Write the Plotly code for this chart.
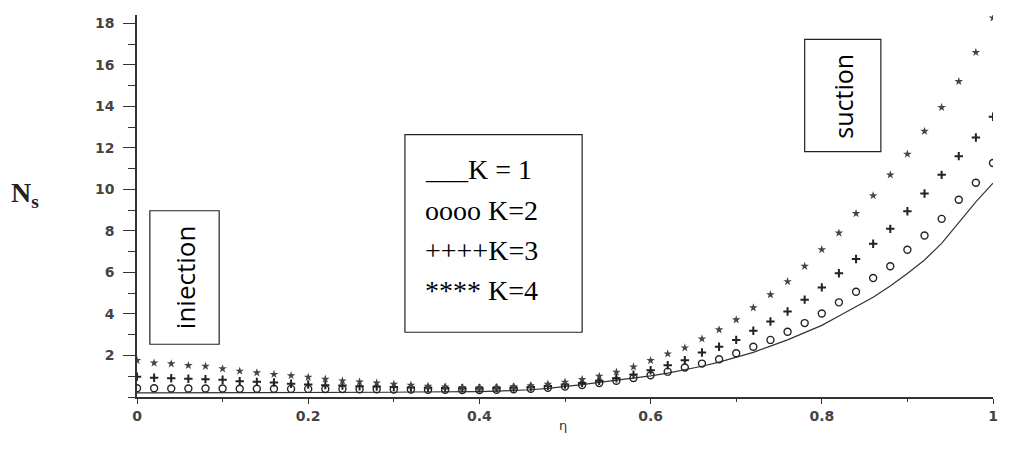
import plotly.graph_objects as go

# Data (eta grid, step 0.02)
eta = [0.00, 0.02, 0.04, 0.06, 0.08, 0.10, 0.12, 0.14, 0.16, 0.18,
       0.20, 0.22, 0.24, 0.26, 0.28, 0.30, 0.32, 0.34, 0.36, 0.38,
       0.40, 0.42, 0.44, 0.46, 0.48, 0.50, 0.52, 0.54, 0.56, 0.58,
       0.60, 0.62, 0.64, 0.66, 0.68, 0.70, 0.72, 0.74, 0.76, 0.78,
       0.80, 0.82, 0.84, 0.86, 0.88, 0.90, 0.92, 0.94, 0.96, 0.98, 1.00]

ns_k1 = [0.20, 0.20, 0.20, 0.20, 0.21, 0.21, 0.21, 0.21, 0.22, 0.22,
         0.22, 0.22, 0.23, 0.23, 0.23, 0.23, 0.24, 0.24, 0.24, 0.25,
         0.26, 0.28, 0.31, 0.35, 0.42, 0.50, 0.60, 0.70, 0.80, 0.90,
         1.02, 1.15, 1.30, 1.48, 1.68, 1.90, 2.15, 2.45, 2.75, 3.10,
         3.45, 3.90, 4.35, 4.80, 5.35, 5.95, 6.60, 7.40, 8.40, 9.40, 10.30]

ns_k2 = [0.42, 0.42, 0.41, 0.41, 0.41, 0.41, 0.40, 0.40, 0.40, 0.39,
         0.39, 0.38, 0.38, 0.37, 0.37, 0.36, 0.36, 0.35, 0.35, 0.34,
         0.34, 0.35, 0.37, 0.40, 0.44, 0.50, 0.58, 0.67, 0.78, 0.91,
         1.05, 1.22, 1.42, 1.61, 1.82, 2.11, 2.42, 2.75, 3.14, 3.56,
         4.02, 4.56, 5.07, 5.73, 6.30, 7.09, 7.78, 8.58, 9.50, 10.32, 11.27]

ns_k3 = [0.98, 0.93, 0.90, 0.88, 0.86, 0.83, 0.76, 0.73, 0.70, 0.64,
         0.60, 0.57, 0.55, 0.52, 0.50, 0.48, 0.46, 0.44, 0.43, 0.42,
         0.42, 0.43, 0.45, 0.48, 0.53, 0.60, 0.68, 0.78, 0.90, 1.08,
         1.29, 1.53, 1.77, 2.14, 2.42, 2.75, 3.19, 3.64, 4.12, 4.69,
         5.28, 5.96, 6.65, 7.38, 8.10, 8.95, 9.80, 10.70, 11.60, 12.50, 13.50]

ns_k4 = [1.76, 1.64, 1.60, 1.52, 1.48, 1.36, 1.25, 1.17, 1.09, 1.03,
         0.95, 0.86, 0.78, 0.73, 0.68, 0.62, 0.57, 0.52, 0.49, 0.46,
         0.45, 0.46, 0.50, 0.55, 0.62, 0.72, 0.85, 1.00, 1.20, 1.45,
         1.76, 2.08, 2.37, 2.80, 3.24, 3.72, 4.30, 4.93, 5.56, 6.30,
         7.10, 7.90, 8.84, 9.70, 10.70, 11.70, 12.80, 13.95, 15.20, 16.60, 18.26]

x_ticks = [0, 0.2, 0.4, 0.6, 0.8, 1]
x_labels = ["0", "0.2", "0.4", "0.6", "0.8", "1"]
y_ticks = [2, 4, 6, 8, 10, 12, 14, 16, 18]

legend_lines = ["___K = 1", "oooo K=2", "++++K=3", "**** K=4"]

fig = go.Figure()

fig.add_trace(go.Scatter(x=eta, y=ns_k1, mode="lines",
                         line=dict(color="#333333", width=1.2), name="K = 1"))
fig.add_trace(go.Scatter(x=eta, y=ns_k2, mode="markers",
                         marker=dict(symbol="circle-open", size=7,
                                     color="#222222", line=dict(width=1.4)),
                         name="K=2"))
fig.add_trace(go.Scatter(x=eta, y=ns_k3, mode="markers",
                         marker=dict(symbol="cross-thin", size=6,
                                     color="#222222", line=dict(width=2,
                                                                color="#222222")),
                         name="K=3"))
fig.add_trace(go.Scatter(x=eta, y=ns_k4, mode="markers",
                         marker=dict(symbol="star", size=6.5, color="#444444"),
                         name="K=4"))

# boxes: legend, injection, suction
box_style = dict(type="rect", xref="x", yref="y",
                 line=dict(color="#222222", width=1.2), fillcolor="white")
fig.add_shape(x0=0.313, x1=0.520, y0=3.12, y1=12.64, **box_style)
fig.add_shape(x0=0.015, x1=0.096, y0=2.54, y1=8.97, **box_style)
fig.add_shape(x0=0.780, x1=0.869, y0=11.82, y1=17.23, **box_style)

legend_y = [10.95, 9.0, 7.05, 5.15]
for txt, yy in zip(legend_lines, legend_y):
    fig.add_annotation(x=0.334, y=yy, xref="x", yref="y", text=txt,
                       showarrow=False, xanchor="left", yanchor="middle",
                       font=dict(family="Liberation Serif", size=28, color="black"))

fig.add_annotation(x=0.0555, y=5.75, xref="x", yref="y", text="iniection",
                   textangle=-90, showarrow=False,
                   font=dict(family="Open Sans", size=26, color="black"))
fig.add_annotation(x=0.8245, y=14.5, xref="x", yref="y", text="suction",
                   textangle=-90, showarrow=False,
                   font=dict(family="Open Sans", size=25, color="black"))

# axis titles
fig.add_annotation(x=-0.15, y=0.53, xref="paper", yref="paper",
                   text="<b>N<sub>s</sub></b>", showarrow=False,
                   font=dict(family="Liberation Serif", size=28, color="#222222"))
fig.add_annotation(x=0.498, y=-0.1, xref="paper", yref="paper",
                   text="η", showarrow=False,
                   font=dict(family="DejaVu Sans", size=13, color="#333333"))

fig.update_layout(
    width=1024, height=449,
    margin=dict(l=129, r=39, t=7, b=60),
    plot_bgcolor="white", paper_bgcolor="white",
    showlegend=False,
)
fig.update_xaxes(range=[0, 1.0], tickvals=x_ticks, ticktext=x_labels,
                 showgrid=False, zeroline=False, showline=True,
                 linecolor="#333333", linewidth=1.5,
                 ticks="outside", ticklen=5, tickcolor="#333333",
                 minor=dict(ticks="outside", ticklen=3, dtick=0.1, tickcolor="#333333"),
                 tickfont=dict(family="DejaVu Sans", size=14, color="#444444",
                               weight="bold"))
fig.update_yaxes(range=[0, 18.4], tickvals=y_ticks,
                 showgrid=False, zeroline=False, showline=True,
                 linecolor="#333333", linewidth=1.5,
                 ticks="outside", ticklen=12, tickcolor="#333333",
                 ticklabelstandoff=6,
                 minor=dict(ticks="outside", ticklen=7, dtick=1, tickcolor="#333333"),
                 tickfont=dict(family="DejaVu Sans", size=14, color="#444444",
                               weight="bold"))

fig.write_html("out.html")
